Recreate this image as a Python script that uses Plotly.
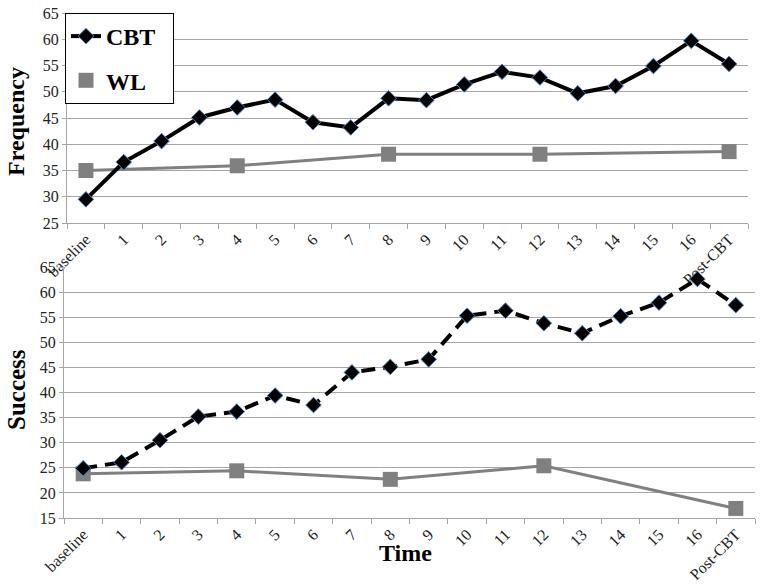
import plotly.graph_objects as go

categories = ["baseline"] + [str(i) for i in range(1, 17)] + ["Post-CBT"]

freq_cbt = [29.5, 36.6, 40.6, 45.1, 47.0, 48.5, 44.2, 43.2, 48.75, 48.4,
            51.4, 53.8, 52.7, 49.7, 51.1, 54.9, 59.7, 55.3]
freq_wl = [35.0, None, None, None, 35.9, None, None, None, 38.1, None,
           None, None, 38.1, None, None, None, None, 38.6]

succ_cbt = [24.9, 26.1, 30.5, 35.2, 36.2, 39.4, 37.5, 44.0, 45.1, 46.6,
            55.3, 56.3, 53.8, 51.8, 55.2, 57.9, 62.6, 57.4]
succ_wl = [23.8, None, None, None, 24.4, None, None, None, 22.7, None,
           None, None, 25.4, None, None, None, None, 16.9]

W, H = 764, 588
FONT = "Liberation Serif"
GRID = "#a6a6a6"
WLC = "#808080"

fig = go.Figure()

diamond = dict(symbol="diamond", size=12, color="black",
               line=dict(color="#4f81bd", width=1))
square = dict(symbol="square", size=15, color=WLC)

# Top panel
fig.add_trace(go.Scatter(x=categories, y=freq_wl, mode="lines+markers",
                         line=dict(color=WLC, width=3), marker=square,
                         connectgaps=True, showlegend=False,
                         xaxis="x", yaxis="y"))
fig.add_trace(go.Scatter(x=categories, y=freq_cbt, mode="lines+markers",
                         line=dict(color="black", width=4), marker=diamond,
                         name="CBT\u00a0\u00a0", legendgroup="a",
                         xaxis="x", yaxis="y"))
# legend-only WL entry (square only)
fig.add_trace(go.Scatter(x=[None], y=[None], mode="markers", marker=square,
                         name="WL", legendgroup="b", xaxis="x", yaxis="y"))

# Bottom panel
fig.add_trace(go.Scatter(x=categories, y=succ_wl, mode="lines+markers",
                         line=dict(color=WLC, width=3), marker=square,
                         connectgaps=True, showlegend=False,
                         xaxis="x2", yaxis="y2"))
fig.add_trace(go.Scatter(x=categories, y=succ_cbt, mode="lines+markers",
                         line=dict(color="black", width=4, dash="14px,8px"),
                         marker=diamond, showlegend=False,
                         xaxis="x2", yaxis="y2"))

tickfont = dict(family=FONT, size=16, color="#222")
xcommon = dict(type="category", categoryorder="array", categoryarray=categories,
               tickangle=-45, ticks="outside", tickson="boundaries", ticklen=5,
               tickcolor=GRID, showline=True, linecolor=GRID, linewidth=1,
               showgrid=False, tickfont=tickfont, automargin=False,
               range=[-0.5, 17.5])
ycommon = dict(showgrid=True, gridcolor=GRID, gridwidth=1, dtick=5,
               ticks="outside", ticklen=4, tickcolor=GRID,
               showline=True, linecolor=GRID, linewidth=1, zeroline=False,
               tickfont=tickfont, automargin=False)

fig.update_layout(
    width=W, height=H,
    font=dict(family=FONT, color="#222"),
    margin=dict(l=0, r=0, t=0, b=0, autoexpand=False),
    paper_bgcolor="white", plot_bgcolor="white",
    xaxis=dict(xcommon, domain=[67 / W, 748 / W], anchor="y"),
    yaxis=dict(ycommon, domain=[1 - 223 / H, 1 - 13 / H], range=[25, 65],
               anchor="x"),
    xaxis2=dict(xcommon, domain=[64 / W, 755 / W], anchor="y2"),
    yaxis2=dict(ycommon, domain=[1 - 518 / H, 1 - 267 / H], range=[15, 65],
                anchor="x2"),
    legend=dict(x=65 / W, y=1 - 13 / H, xanchor="left", yanchor="top",
                bgcolor="white", bordercolor="black", borderwidth=1,
                font=dict(family=FONT, size=24, color="black", weight="bold"),
                traceorder="grouped", tracegroupgap=10,
                itemwidth=30),
    annotations=[
        dict(text="<b>Frequency</b>", x=16 / W, y=1 - 122 / H, xref="paper",
             yref="paper", textangle=-90, showarrow=False,
             xanchor="center", yanchor="middle",
             font=dict(family=FONT, size=24, color="black")),
        dict(text="<b>Success</b>", x=16 / W, y=1 - 390 / H, xref="paper",
             yref="paper", textangle=-90, showarrow=False,
             xanchor="center", yanchor="middle",
             font=dict(family=FONT, size=25, color="black")),
        dict(text="<b>Time</b>", x=405 / W, y=1 - 553 / H, xref="paper",
             yref="paper", showarrow=False,
             xanchor="center", yanchor="middle",
             font=dict(family=FONT, size=24, color="black")),
    ],
)

fig.write_html("out.html",
               config={"displayModeBar": False},
               post_script="document.body.style.margin='0';"
                           "document.body.style.overflow='hidden';")
